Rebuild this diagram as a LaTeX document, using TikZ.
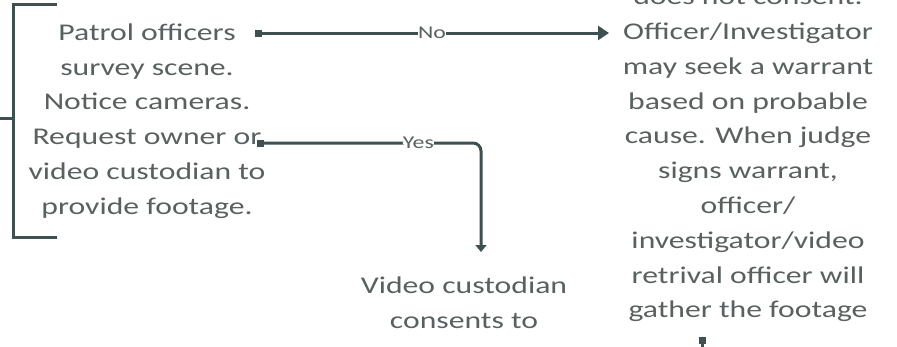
\documentclass[tikz,border=0pt]{standalone}
\usepackage{fontspec}
\setmainfont[FakeStretch=1.32]{Carlito}
\usetikzlibrary{arrows.meta}
\definecolor{txt}{HTML}{5A6060}
\definecolor{ln}{HTML}{3E5050}
\tikzset{
  x=1pt,y=-1pt,
  body/.style={align=center,text=txt,font=\fontsize{24}{34.8}\selectfont,inner sep=0pt},
  lab/.style={text=txt,font=\fontsize{18}{19}\selectfont,fill=white,inner sep=0pt},
  conn/.style={draw=ln,line width=3pt},
}
\begin{document}
\begin{tikzpicture}
\useasboundingbox (0,0) rectangle (897,346);
\clip (0,0) rectangle (897,346);
% bracket
\draw[conn] (57,4) -- (13,4) -- (13,237) -- (57,237);
\draw[conn] (0,118) -- (13,118);
% texts
\node[body] (left) at (147,121) {Patrol officers\\survey scene.\\Notice cameras.\\Request owner or\\video custodian to\\provide footage.};
\node[body] (right) at (748,155) {does not consent.\\Officer/Investigator\\may seek a warrant\\based on probable\\cause. When judge\\signs warrant,\\officer/\\investigator/video\\retrival officer will\\gather the footage};
\node[body] (mid) at (464,303) {Video custodian\\consents to};
% connectors
\coordinate (noS) at (255,33);
\coordinate (noE) at (609,33);
\draw[conn,{Square[length=7pt,width=7pt]}-{Triangle[length=11pt,width=14pt]}] (noS) -- node[lab]{No} (noE);
\coordinate (yesS) at (257,143);
\coordinate (yesE) at (481,252);
\draw[conn,rounded corners=8pt,{Square[length=7pt,width=7pt]}-{Triangle[length=7pt,width=11pt]}] (yesS) -- node[lab,pos=0.72]{Yes} (yesS -| yesE) -- (yesE);
\coordinate (bS) at (702,337);
\coordinate (bE) at (702,360);
\draw[conn,{Square[length=7pt,width=7pt]}-] (bS) -- (bE);
\end{tikzpicture}
\end{document}
